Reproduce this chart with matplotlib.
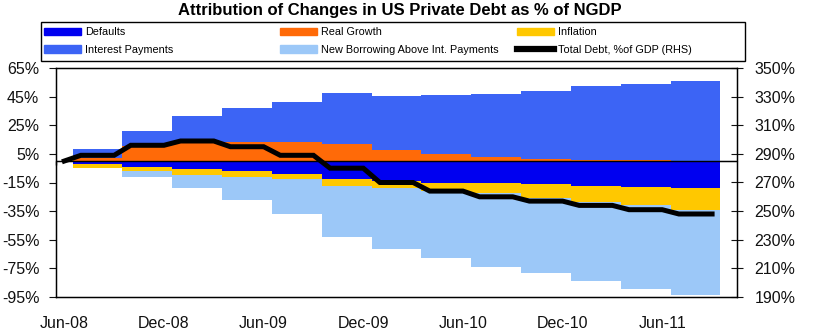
import numpy as np
import matplotlib
matplotlib.use('Agg')
import matplotlib.pyplot as plt
from matplotlib.patches import Patch, Rectangle
from matplotlib.lines import Line2D

plt.rcParams['font.family'] = ['Liberation Sans', 'DejaVu Sans']

# quarterly contributions, % of NGDP (cumulative since Jun-08)
quarters = np.arange(13)
defaults = [-2.1, -4.0, -5.6, -7.3, -9.1, -12.4, -14.0, -15.0, -15.5, -16.1, -17.7, -18.4, -19.1]
real_growth = [2.1, 10.8, 14.2, 13.5, 13.5, 11.9, 7.9, 4.7, 2.6, 1.6, 0.9, 0.5, 0.3]
interest = [6.3, 10.4, 17.5, 23.3, 28.0, 35.4, 37.8, 41.4, 44.5, 47.5, 51.7, 53.3, 55.8]
inflation = [-2.8, -2.8, -4.0, -3.9, -3.2, -5.1, -4.8, -5.6, -7.0, -9.4, -10.8, -12.1, -14.9]
new_borrowing = [0.0, -4.6, -9.5, -16.0, -24.9, -35.4, -42.9, -46.9, -51.3, -53.0, -55.1, -59.2, -59.3]

# total debt, % of GDP (right axis): starting value, then one value per quarter
debt_start = 285
debt_q = [289, 296, 299, 295, 289, 280, 270, 264, 260, 257, 254, 251, 248]

month_labels = ['Jun-08', 'Dec-08', 'Jun-09', 'Dec-09', 'Jun-10', 'Dec-10', 'Jun-11']

c_def = '#0000F0'
c_int = '#3C64F5'
c_rg = '#FF6A08'
c_inf = '#FFC800'
c_nb = '#9CC8F8'

W, H = 817, 336
fig = plt.figure(figsize=(W / 100, H / 100), dpi=100)
ax = fig.add_axes([56 / W, 1 - 297 / H, 681 / W, 229 / H])

x = 2 + 3 * quarters
w = 3.0
defaults = np.array(defaults)
inflation = np.array(inflation)
ax.bar(x, real_growth, w, color=c_rg, linewidth=0)
ax.bar(x, interest, w, bottom=real_growth, color=c_int, linewidth=0)
ax.bar(x, defaults, w, color=c_def, linewidth=0)
ax.bar(x, inflation, w, bottom=defaults, color=c_inf, linewidth=0)
ax.bar(x, new_borrowing, w, bottom=defaults + inflation, color=c_nb, linewidth=0)
ax.axhline(0, color='black', linewidth=1.0, zorder=3)

ax.set_xlim(-0.5, 40.5)
ax.set_ylim(-95, 65)
ax.set_yticks(np.arange(-95, 66, 20))
ax.set_yticklabels([f'{v}%' for v in range(-95, 66, 20)])
ax.set_xticks(np.arange(0, 37, 6))
ax.set_xticklabels(month_labels)
ax.tick_params(axis='x', length=0, pad=14, labelsize=11.5, colors='#111111')
ax.tick_params(axis='y', direction='out', length=5, labelsize=11.5, colors='#111111', pad=7)
for s in ax.spines.values():
    s.set_linewidth(1.0)

# small category ticks on the zero line
sec = ax.secondary_xaxis(95 / 160)
sec.set_xticks(np.arange(0, 41, 6) - 0.5)
sec.set_xticklabels([])
sec.tick_params(direction='in', length=3, width=1)
sec.spines['bottom'].set_visible(False)

ax2 = ax.twinx()
months = np.arange(40)
debt = np.concatenate([[debt_start], np.repeat(debt_q, 3)])
ax2.plot(months, debt, color='black', linewidth=3.6, solid_joinstyle='miter')
ax2.set_ylim(190, 350)
ax2.set_yticks(np.arange(190, 351, 20))
ax2.set_yticklabels([f'{v}%' for v in range(190, 351, 20)])
ax2.tick_params(axis='y', direction='inout', length=9, labelsize=11.5, colors='#111111', pad=8)

fig.text(400 / W, 1 - 11 / H, 'Attribution of Changes in US Private Debt as % of NGDP',
         ha='center', va='center', fontsize=12, fontweight='bold',
         family=['Liberation Sans Narrow', 'Liberation Sans', 'DejaVu Sans'])

# legend: three columns inside one box
fig.patches.append(Rectangle((41 / W, 1 - 61 / H), 704 / W, 39 / H, transform=fig.transFigure,
                             fill=False, edgecolor='black', linewidth=1.0))
columns = [
    ([Patch(color=c_def), Patch(color=c_int)], ['Defaults', 'Interest Payments'], 44),
    ([Patch(color=c_rg), Patch(color=c_nb)], ['Real Growth', 'New Borrowing Above Int. Payments'], 280),
    ([Patch(color=c_inf), Line2D([], [], color='black', linewidth=4.5)],
     ['Inflation', 'Total Debt, %of GDP (RHS)'], 517),
]
for hs, ls, x0 in columns:
    fig.legend(hs, ls, loc='upper left', bbox_to_anchor=(x0 / W, 1 - 27 / H),
               fontsize=7.8, frameon=False, handlelength=3.4, handleheight=0.65,
               handletextpad=0.35, borderpad=0, borderaxespad=0, labelspacing=0.72)

fig.savefig('out.png', dpi=100)
